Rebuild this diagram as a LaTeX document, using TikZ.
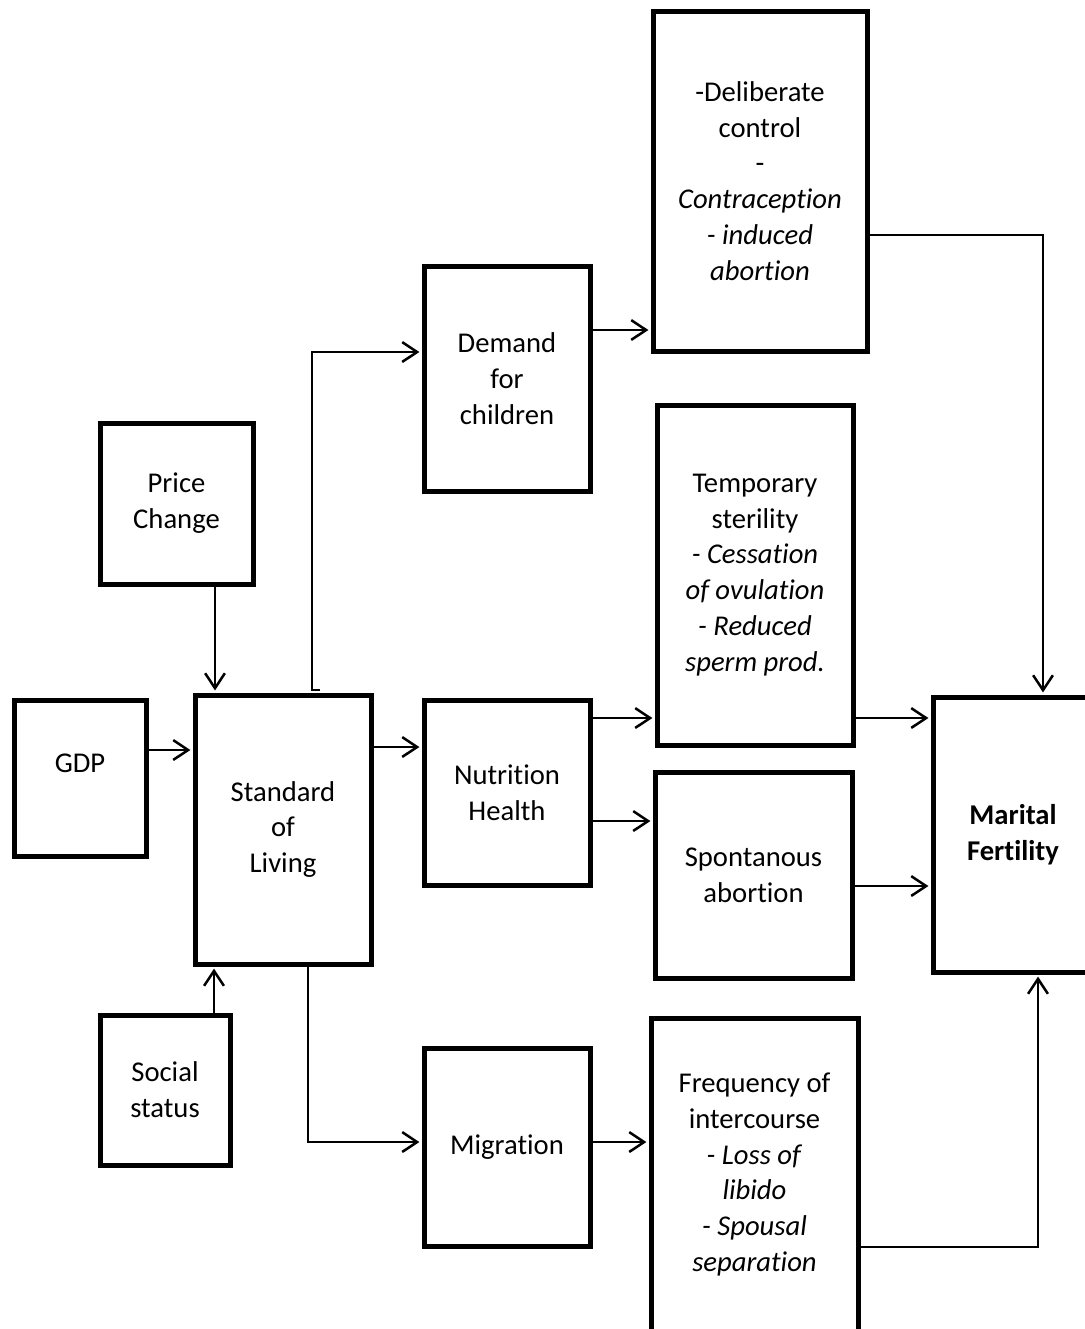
\documentclass[tikz,border=0pt]{standalone}
\usepackage{fontspec}
\setmainfont{Carlito}[Ligatures=NoCommon]
\usetikzlibrary{arrows.meta}

\newlength{\du}
\setlength{\du}{0.02cm}

\tikzset{
  box/.style={draw, line width=5\du, inner sep=0pt, align=center,
    font=\fontsize{16.3}{20.4}\selectfont},
  arr/.style={line width=2.5\du, shorten >=1.2pt,
    -{Straight Barb[length=8.5pt, width=11.3pt]}},
}

\begin{document}
\begin{tikzpicture}[x=\du, y=-\du]
\useasboundingbox (0,0) rectangle (1085,1329);
\clip (0,0) rectangle (1085,1329);

% left column
\node[box, minimum width=153\du, minimum height=161\du] (price) at (176.5,503.5) {Price\\Change};
\node[box, minimum width=132\du, minimum height=156\du] (gdp) at (80,778) {\raisebox{30\du}{GDP}};
\node[box, minimum width=130\du, minimum height=150\du] (soc) at (165,1090) {Social\\status};
\node[box, minimum width=176\du, minimum height=269\du] (sol) at (283,829.5) {Standard\\of\\Living};

% middle column
\node[box, minimum width=166\du, minimum height=225\du] (demand) at (507,378.5) {Demand\\for\\children};
\node[box, minimum width=166\du, minimum height=185\du] (nutr) at (507,792.5) {Nutrition\\Health};
\node[box, minimum width=166\du, minimum height=198\du] (migr) at (507,1147) {Migration};

% proximate determinants
\node[box, minimum width=214\du, minimum height=340\du] (delib) at (760,181) {-Deliberate\\control\\-\\\textit{Contraception}\\\textit{- induced}\\\textit{abortion}};
\node[box, minimum width=196\du, minimum height=340\du] (temp) at (755,575) {Temporary\\sterility\\\textit{- Cessation}\\\textit{of ovulation}\\\textit{- Reduced}\\\textit{sperm prod.}};
\node[box, minimum width=197\du, minimum height=206\du] (spont) at (753.5,875) {Spontanous\\abortion};
\node[box, minimum width=207\du, minimum height=313\du] (freq) at (754.5,1174.5) {Frequency of\\intercourse\\\textit{- Loss of}\\\textit{libido}\\\textit{- Spousal}\\\textit{separation}};

% outcome
\node[box, minimum width=160\du, minimum height=275\du] (mar) at (1013,834.5) {\textbf{Marital}\\\textbf{Fertility}};

% bend points
\coordinate (pricex) at (215,0);
\coordinate (socx) at (214,0);
\coordinate (gdpy) at (0,750);
\coordinate (hook) at (320,690);
\coordinate (upbend) at (312,690);
\coordinate (demy) at (0,352);
\coordinate (soly) at (0,747);
\coordinate (downx) at (308,0);
\coordinate (migy) at (0,1142);
\coordinate (dely) at (0,330);
\coordinate (topy) at (0,718);
\coordinate (spy) at (0,821);
\coordinate (rightx) at (1043,235);
\coordinate (lowx) at (1038,1247);
\coordinate (sponty) at (0,886);

% into standard of living
\draw[arr] (price.south -| pricex) -- (sol.north -| pricex);
\draw[arr] (gdp.east |- gdpy) -- (sol.west |- gdpy);
\draw[arr] (soc.north -| socx) -- (sol.south -| socx);

% out of standard of living
\draw[arr] (hook) -- (upbend) |- (demand.west |- demy);
\draw[arr] (sol.east |- soly) -- (nutr.west |- soly);
\draw[arr] (sol.south -| downx) |- (migr.west |- migy);

% middle to right
\draw[arr] (demand.east |- dely) -- (delib.west |- dely);
\draw[arr] (nutr.east |- topy) -- (temp.west |- topy);
\draw[arr] (nutr.east |- spy) -- (spont.west |- spy);
\draw[arr] (migr.east |- migy) -- (freq.west |- migy);

% into marital fertility
\draw[arr] (delib.east |- rightx) -| (mar.north -| rightx);
\draw[arr] (temp.east |- topy) -- (mar.west |- topy);
\draw[arr] (spont.east |- sponty) -- (mar.west |- sponty);
\draw[arr] (freq.east |- lowx) -| (mar.south -| lowx);
\end{tikzpicture}
\end{document}
